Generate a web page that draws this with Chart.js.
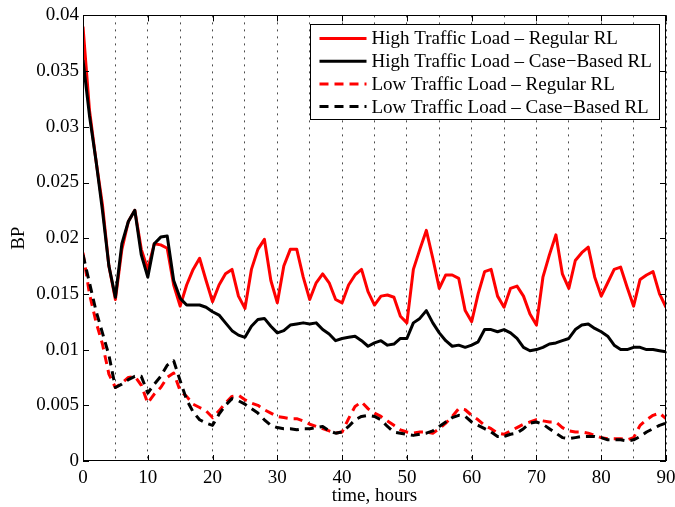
<!DOCTYPE html>
<html lang="en">
<head>
<meta charset="UTF-8">
<title>BP over time</title>
<script src="https://cdn.jsdelivr.net/npm/chart.js"></script>
<style>
  body { margin: 0; background: #fff; }
</style>
</head>
<body>
<canvas id="bpChart" width="675" height="507"></canvas>
<script>
// time axis, one sample per hour
const hours = [
  0, 1, 2, 3, 4, 5, 6, 7, 8, 9, 10, 11, 12, 13, 14, 15, 16, 17, 18, 19,
  20, 21, 22, 23, 24, 25, 26, 27, 28, 29, 30, 31, 32, 33, 34, 35, 36, 37, 38, 39,
  40, 41, 42, 43, 44, 45, 46, 47, 48, 49, 50, 51, 52, 53, 54, 55, 56, 57, 58, 59,
  60, 61, 62, 63, 64, 65, 66, 67, 68, 69, 70, 71, 72, 73, 74, 75, 76, 77, 78, 79,
  80, 81, 82, 83, 84, 85, 86, 87, 88, 89, 90
];

const highRegular = [
  0.039, 0.0315, 0.027, 0.023, 0.0175, 0.0145, 0.019, 0.0215, 0.0225, 0.019,
  0.0172, 0.0195, 0.0194, 0.0191, 0.0158, 0.0139, 0.0158, 0.0172, 0.0182, 0.0162,
  0.0143, 0.0158, 0.0168, 0.0172, 0.0148, 0.0137, 0.0172, 0.019, 0.0199, 0.0162,
  0.0142, 0.0175, 0.019, 0.019, 0.0165, 0.0145, 0.016, 0.0168, 0.016, 0.0145,
  0.0142, 0.0158, 0.0167, 0.0172, 0.0152, 0.014, 0.0148, 0.0149, 0.0147, 0.013,
  0.0124, 0.0172, 0.019, 0.0207, 0.0182, 0.0155, 0.0167, 0.0167, 0.0164, 0.0135,
  0.0125, 0.015, 0.017, 0.0172, 0.0148, 0.0138, 0.0155, 0.0157, 0.0148, 0.0132,
  0.0122, 0.0165, 0.0185, 0.0203, 0.0168, 0.0155, 0.018, 0.0187, 0.0192, 0.0165,
  0.0148, 0.016, 0.0172, 0.0174, 0.0156, 0.0139, 0.0163, 0.0167, 0.017, 0.015,
  0.0138
];

const highCaseBased = [
  0.036, 0.031, 0.027, 0.0225, 0.0175, 0.0147, 0.0195, 0.0215, 0.0225, 0.0185,
  0.0165, 0.0195, 0.0201, 0.0202, 0.0162, 0.0146, 0.014, 0.014, 0.014, 0.0138,
  0.0134, 0.0131, 0.0124, 0.0117, 0.0113, 0.0111, 0.0121, 0.0127, 0.0128, 0.0121,
  0.0115, 0.0117, 0.0122, 0.0123, 0.0124, 0.0123, 0.0124, 0.0118, 0.0114, 0.0108,
  0.011, 0.0111, 0.0112, 0.0108, 0.0103, 0.0106, 0.0108, 0.0104, 0.0105, 0.011,
  0.011, 0.0124, 0.0128, 0.0135, 0.0124, 0.0115, 0.0108, 0.0103, 0.0104, 0.0102,
  0.0104, 0.0107, 0.0118, 0.0118, 0.0116, 0.0118, 0.0115, 0.011, 0.0102, 0.0099,
  0.01, 0.0102, 0.0105, 0.0106, 0.0108, 0.011, 0.0118, 0.0122, 0.0123, 0.0119,
  0.0116, 0.0112, 0.0104, 0.01, 0.01, 0.0102, 0.0102, 0.01, 0.01, 0.0099,
  0.0098
];

const lowRegular = [
  0.0187, 0.015, 0.0125, 0.0105, 0.0078, 0.0066, 0.007, 0.0075, 0.0076, 0.0068,
  0.0052, 0.006, 0.0066, 0.0075, 0.0079, 0.0063, 0.0058, 0.0051, 0.0048, 0.0045,
  0.0039, 0.0045, 0.0052, 0.0058, 0.0059, 0.0055, 0.0052, 0.005, 0.0046, 0.0043,
  0.004, 0.0039, 0.0038, 0.0038, 0.0036, 0.0033, 0.0031, 0.0029, 0.0027, 0.0025,
  0.0026, 0.0038, 0.0049, 0.0053, 0.0047, 0.0043, 0.004, 0.0036, 0.0032, 0.0028,
  0.0026, 0.0025, 0.0026, 0.0026, 0.0025, 0.0029, 0.0034, 0.004, 0.0047, 0.0046,
  0.0041, 0.0037, 0.0032, 0.0029, 0.0025, 0.0024, 0.0027, 0.003, 0.0033, 0.0035,
  0.0037, 0.0036, 0.0035, 0.0035, 0.003, 0.0027, 0.0026, 0.0026, 0.0025, 0.0023,
  0.0021, 0.002, 0.002, 0.002, 0.0019, 0.0021, 0.0032, 0.0037, 0.0041, 0.0043,
  0.0038
];

const lowCaseBased = [
  0.0185, 0.016, 0.0135, 0.0115, 0.0095, 0.0066, 0.0069, 0.0073, 0.0076, 0.0076,
  0.0061, 0.0069, 0.0076, 0.0086, 0.009, 0.0072, 0.0055, 0.0044, 0.0037, 0.0034,
  0.0032, 0.0042, 0.005, 0.0056, 0.0054, 0.0051, 0.0047, 0.0043, 0.0037, 0.0032,
  0.003, 0.0029, 0.0029, 0.0028, 0.0029, 0.0029, 0.003, 0.0031, 0.0027, 0.0025,
  0.0026, 0.0031, 0.0037, 0.004, 0.0041, 0.004, 0.0037, 0.0031, 0.0026, 0.0025,
  0.0024, 0.0023, 0.0024, 0.0025, 0.0027, 0.0031, 0.0035, 0.0039, 0.0041, 0.004,
  0.0035, 0.0032, 0.0029, 0.0026, 0.0022, 0.0022, 0.0024, 0.0025, 0.0029, 0.0034,
  0.0035, 0.0033, 0.0029, 0.0025, 0.0021, 0.002, 0.0021, 0.0022, 0.0022, 0.0022,
  0.0021, 0.0019, 0.0019, 0.0019, 0.0018, 0.0019, 0.0022, 0.0026, 0.0029, 0.0032,
  0.0034
];

const seriesLabels = [
  'High Traffic Load \u2013 Regular RL',
  'High Traffic Load \u2013 Case\u2212Based RL',
  'Low Traffic Load \u2013 Regular RL',
  'Low Traffic Load \u2013 Case\u2212Based RL'
];

const FONT = '"Liberation Serif", "Times New Roman", serif';

function toPoints(values) {
  return hours.map((h, i) => ({ x: h, y: values[i] }));
}

// matlab style box, inward ticks and the boxed legend
const matlabFrame = {
  id: 'matlabFrame',
  afterDatasetsDraw(chart) {
    const { ctx, chartArea: a, scales: { x, y } } = chart;
    ctx.save();
    ctx.strokeStyle = '#000';
    ctx.lineWidth = 1;
    ctx.setLineDash([]);
    ctx.beginPath();
    x.ticks.forEach(t => {
      if (Math.round(t.value) % 10 !== 0) return;
      const px = Math.round(x.getPixelForValue(t.value)) + 0.5;
      ctx.moveTo(px, a.bottom); ctx.lineTo(px, a.bottom - 6);
      ctx.moveTo(px, a.top); ctx.lineTo(px, a.top + 6);
    });
    y.ticks.forEach(t => {
      const py = Math.round(y.getPixelForValue(t.value)) + 0.5;
      ctx.moveTo(a.left, py); ctx.lineTo(a.left + 6, py);
      ctx.moveTo(a.right, py); ctx.lineTo(a.right - 6, py);
    });
    ctx.stroke();
    ctx.strokeRect(Math.round(a.left) + 0.5, Math.round(a.top) + 0.5,
                   Math.round(a.width) - 1, Math.round(a.height) - 1);

    // legend
    const sets = chart.data.datasets;
    ctx.font = '19px ' + FONT;
    const textW = Math.max(...sets.map(d => ctx.measureText(d.label).width));
    const rowH = 22.7;
    const boxW = Math.round(9 + 47 + 5 + textW + 8);
    const boxH = 95;
    const bx = Math.round(a.right) - 7 - boxW + 0.5;
    const by = Math.round(a.top) + 9 + 0.5;
    ctx.fillStyle = '#fff';
    ctx.fillRect(bx, by, boxW, boxH);
    ctx.strokeRect(bx, by, boxW, boxH);
    sets.forEach((d, i) => {
      const cy = by + 14 + i * rowH;
      ctx.beginPath();
      ctx.strokeStyle = d.borderColor;
      ctx.lineWidth = d.borderWidth;
      ctx.setLineDash(d.borderDash || []);
      ctx.moveTo(bx + 9, cy);
      ctx.lineTo(bx + 56, cy);
      ctx.stroke();
      ctx.setLineDash([]);
      ctx.fillStyle = '#000';
      ctx.textBaseline = 'middle';
      ctx.textAlign = 'left';
      ctx.fillText(d.label, bx + 61, cy + 1);
    });
    ctx.restore();
  }
};

new Chart(document.getElementById('bpChart'), {
  type: 'line',
  data: {
    datasets: [
      { label: seriesLabels[0], data: toPoints(highRegular), borderColor: '#ff0000', borderWidth: 3, order: 4 },
      { label: seriesLabels[1], data: toPoints(highCaseBased), borderColor: '#000000', borderWidth: 3, order: 3 },
      { label: seriesLabels[2], data: toPoints(lowRegular), borderColor: '#ff0000', borderWidth: 3, borderDash: [9, 6], order: 2 },
      { label: seriesLabels[3], data: toPoints(lowCaseBased), borderColor: '#000000', borderWidth: 3, borderDash: [9, 6], order: 1 }
    ]
  },
  options: {
    responsive: false,
    animation: false,
    layout: { padding: { left: 4, right: 9, top: 15, bottom: 0 } },
    elements: {
      point: { radius: 0 },
      line: { tension: 0, borderCapStyle: 'butt', borderJoinStyle: 'round' }
    },
    plugins: {
      legend: { display: false },
      tooltip: { enabled: false }
    },
    scales: {
      x: {
        type: 'linear',
        min: 0,
        max: 90,
        afterFit: s => { s.height = 46; s.paddingLeft = 0; s.paddingRight = 0; },
        border: { display: false, dash: [2, 5] },
        grid: {
          drawTicks: false,
          color: 'rgba(0,0,0,0.7)',
          lineWidth: 1
        },
        ticks: {
          stepSize: 5,
          autoSkip: false,
          maxRotation: 0,
          padding: 6,
          color: '#000',
          font: { family: FONT, size: 19 },
          callback: v => (v % 10 === 0 ? String(v) : '')
        },
        title: {
          display: true,
          text: 'time, hours',
          color: '#000',
          font: { family: FONT, size: 19 },
          padding: { top: 0, bottom: 0 }
        }
      },
      y: {
        min: 0,
        max: 0.04,
        afterFit: s => { s.width = 79; },
        border: { display: false },
        grid: { display: false, drawTicks: false },
        ticks: {
          stepSize: 0.005,
          padding: 4,
          color: '#000',
          font: { family: FONT, size: 19 },
          callback: v => String(Math.round(v * 1000) / 1000)
        },
        title: {
          display: true,
          text: 'BP',
          color: '#000',
          font: { family: FONT, size: 19 },
          padding: { top: 4, bottom: 4 }
        }
      }
    }
  },
  plugins: [matlabFrame]
});
</script>
</body>
</html>
